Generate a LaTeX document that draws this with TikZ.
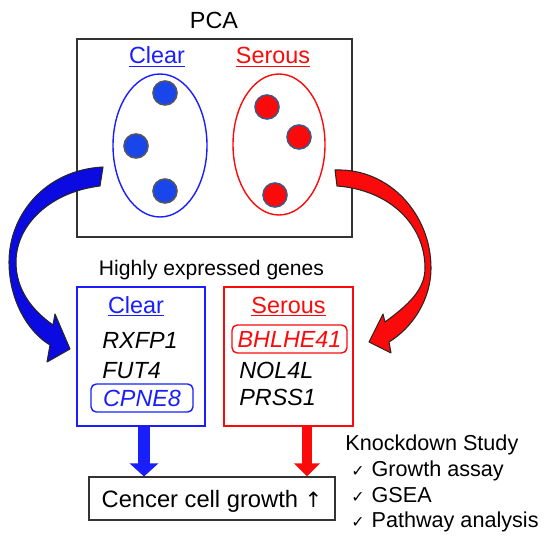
\documentclass[tikz,border=0pt]{standalone}
\usepackage{fontspec}
\setmainfont{Liberation Sans}
\newfontfamily\dvsans{DejaVu Sans}
\usetikzlibrary{
  arrows.meta,
  calc,
  positioning,
  shapes.geometric,
}
\definecolor{cClear}{RGB}{ 25, 30,250}
\definecolor{cDotB}{RGB}{ 25, 70,235}
\definecolor{cSerous}{RGB}{250, 10, 10}
\definecolor{cArrB}{RGB}{ 10, 10,225}
\definecolor{cRimB}{RGB}{ 85, 85, 95}
\definecolor{cRimR}{RGB}{ 70, 85,130}
\def\pxu{0.02cm}
\newcommand{\fs}[1]{\fontsize{#1}{#1}\selectfont}
\newcommand{\chk}{{\dvsans\fs{9}✓}}
\tikzset{
  % Plain black frame
  frame/.style={
    rectangle, draw=black!80, line width=0.6pt, inner sep=0pt,
  },
  % Gene list box
  genebox/.style={
    rectangle, draw=#1, line width=0.8pt, inner sep=0pt,
  },
  % Cluster ellipse
  cluster/.style={
    ellipse, draw=#1, line width=0.8pt, inner sep=0pt,
  },
  % Sample dot
  sample/.style={
    circle, fill=#1, inner sep=0pt, minimum size=24*\pxu, line width=0.9pt,
  },
  % Group heading
  grouplab/.style={font=\fs{13.3}, text=#1, anchor=base, inner sep=0pt},
  % Gene name
  gene/.style={font=\fs{13.3}\itshape, anchor=base west, inner sep=0pt},
  % Highlighted gene
  hitgene/.style={
    rectangle, rounded corners=3pt,
    draw=#1, text=#1, line width=0.8pt,
    font=\fs{13.3}\itshape, inner sep=0pt,
    text height=9.5pt, text depth=0pt,
  },
  % Plain note text
  note/.style={font=\fs{12.3}, anchor=base west, inner sep=0pt},
  % Straight block arrow
  downarr/.style n args={2}{line width=#1, -{Triangle[length=7.4pt, width=#2]}},
  % Curved block arrow
  bend/.style={fill=#1, draw=black!85, line width=0.6pt, line join=round},
}

\begin{document}
\begin{tikzpicture}[x=0.02cm, y=-0.02cm]
\useasboundingbox (0,0) rectangle (550,540);

% ── PCA plot ───────────────────────────────────────────────────────────────
\node[font=\fs{13.3}, anchor=base, inner sep=0pt] (pcatitle) at (214,29) {PCA};
\node[frame, minimum width=275*\pxu, minimum height=198*\pxu] (pcabox) at (214.5,138) {};

\node[grouplab=cClear] (pclear) at (157,64) {\underline{Clear}};
\node[grouplab=cSerous] (pserous) at (273,64) {\underline{Serous}};

\node[cluster=cClear, minimum width=94*\pxu, minimum height=143*\pxu] (clearell) at (160,145.5) {};
\node[cluster=cSerous, minimum width=92*\pxu, minimum height=141*\pxu] (serell) at (279,144.5) {};

% samples
\node[sample=cDotB, draw=cRimB] (c1) at (165,93) {};
\node[sample=cDotB, draw=cRimB] (c2) at (136,146) {};
\node[sample=cDotB, draw=cRimB] (c3) at (165,191) {};
\node[sample=cSerous, draw=cRimR] (s1) at (267,107) {};
\node[sample=cSerous, draw=cRimR] (s2) at (299,137) {};
\node[sample=cSerous, draw=cRimR] (s3) at (275,195) {};

% ── Highly expressed genes ─────────────────────────────────────────────────
\node[font=\fs{12}, anchor=base, inner sep=0pt] (hegtitle) at (211.5,275) {Highly expressed genes};

\node[genebox=cClear, minimum width=128*\pxu, minimum height=139*\pxu] (clearbox) at (141,356.5) {};
\node[genebox=cSerous, minimum width=129*\pxu, minimum height=139*\pxu] (serbox) at (288.5,356.5) {};

\node[grouplab=cClear] (bclear) at (136,313) {\underline{Clear}};
\node[gene] (rxfp) at (102,348) {RXFP1};
\node[gene] (fut) at (102,378) {FUT4};
\node[hitgene=cClear, minimum width=102*\pxu, minimum height=28*\pxu] (cpne) at (142,398) {CPNE8};

\node[grouplab=cSerous] (bserous) at (288.5,313) {\underline{Serous}};
\node[hitgene=cSerous, minimum width=115*\pxu, minimum height=28*\pxu] (bhlhe) at (289.5,339) {BHLHE41};
\node[gene] (nol) at (239,378) {NOL4L};
\node[gene] (prss) at (239,405) {PRSS1};

% ── Curved arrows from the clusters to the gene lists ──────────────────────
\filldraw[bend=cArrB]
  (103,167) .. controls (45,170) and (9,215) .. (9,262)
  .. controls (9,300) and (28,332) .. (50,345)
  -- (47,362) -- (70,349) -- (55,314) -- (53,325)
  .. controls (32,310) and (16,290) .. (16,262)
  .. controls (16,225) and (50,192) .. (100,186) -- cycle;

\filldraw[bend=cSerous]
  (335,170) .. controls (390,168) and (431,215) .. (431,268)
  .. controls (431,300) and (412,328) .. (389,342)
  -- (391,353) -- (369,342) -- (383,314) -- (385,322)
  .. controls (408,305) and (425,290) .. (425,268)
  .. controls (425,225) and (390,190) .. (337,186) -- cycle;

% ── Outcome ────────────────────────────────────────────────────────────────
\node[frame, minimum width=246*\pxu, minimum height=43*\pxu,
  font=\fs{13.5}, text height=9.7pt, text depth=0pt] (growth) at (212,498.5)
  {Cencer cell growth {\dvsans\fs{12}↑}};

\coordinate (bfoot) at ($(clearbox.south)+(3,0)$);
\coordinate (rfoot) at ($(serbox.south)+(18.5,0)$);
\draw[downarr={6.8pt}{15.9pt}, cClear] (bfoot) -- (bfoot |- growth.north);
\draw[downarr={5.7pt}{14.2pt}, cSerous] (rfoot) -- (rfoot |- growth.north);

% ── Knockdown study ────────────────────────────────────────────────────────
\node[note] (knock) at (345,450) {Knockdown Study};
\node[note] (kd1) at (351,476) {\chk\hspace{4pt}Growth assay};
\node[note] (kd2) at (351,502) {\chk\hspace{4pt}GSEA};
\node[note] (kd3) at (351,527) {\chk\hspace{4pt}Pathway analysis};

\end{tikzpicture}
\end{document}
